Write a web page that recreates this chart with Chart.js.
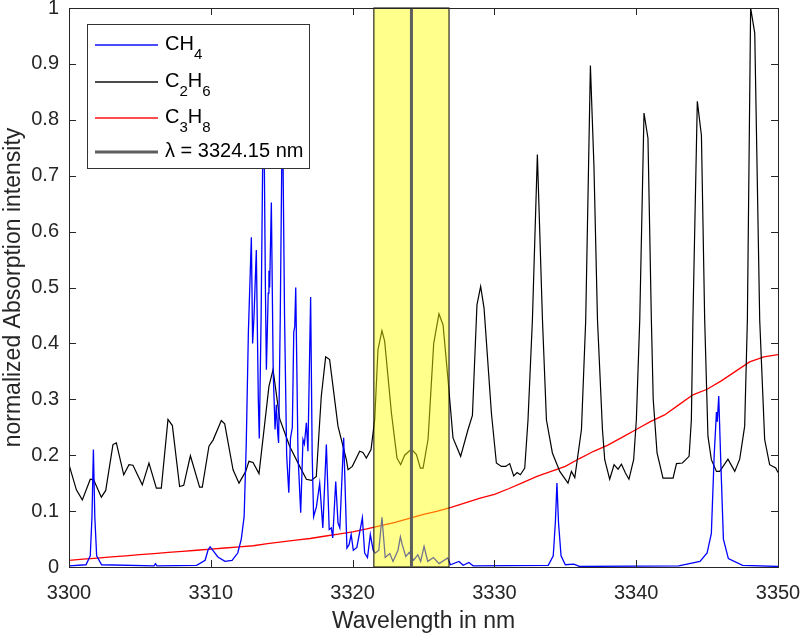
<!DOCTYPE html>
<html>
<head>
<meta charset="utf-8">
<script src="https://cdn.jsdelivr.net/npm/chart.js@4.4.1/dist/chart.umd.min.js"></script>
<style>
  html, body { margin: 0; padding: 0; background: #fff; }
</style>
</head>
<body>
<canvas id="spectrum" width="803" height="636"></canvas>
<script>
// CH4 spectrum (wavelength nm / normalized intensity)
const ch4Wl = [3300.0, 3301.2, 3301.5, 3301.62, 3301.72, 3301.82, 3301.95, 3302.3, 3306.0, 3306.1, 3306.2,
  3309.0, 3309.6, 3309.8, 3309.95, 3310.2, 3310.5, 3311.0, 3311.5, 3311.9, 3312.15, 3312.35, 3312.5, 3312.65,
  3312.86, 3312.95, 3313.05, 3313.21, 3313.35, 3313.42, 3313.55, 3313.72, 3313.85, 3313.92, 3314.05, 3314.1,
  3314.15, 3314.27, 3314.4, 3314.53, 3314.62, 3314.72, 3314.78, 3314.9, 3315.05, 3315.2, 3315.35, 3315.5,
  3315.62, 3315.75, 3315.85, 3315.92, 3315.99, 3316.15, 3316.34, 3316.5, 3316.6, 3316.74, 3316.85, 3317.04,
  3317.15, 3317.25, 3317.45, 3317.68, 3317.9, 3318.15, 3318.35, 3318.5, 3318.6, 3318.81, 3318.97, 3319.1,
  3319.37, 3319.6, 3319.75, 3319.9, 3320.05, 3320.3, 3320.69, 3320.85, 3321.05, 3321.25, 3321.45, 3321.6,
  3321.85, 3322.07, 3322.3, 3322.62, 3322.85, 3323.2, 3323.37, 3323.5, 3323.75, 3324.0, 3324.3, 3324.6,
  3324.8, 3325.04, 3325.3, 3325.7, 3326.1, 3326.7, 3326.9, 3327.5, 3327.8, 3328.2, 3328.5, 3333.8, 3334.15,
  3334.3, 3334.41, 3334.52, 3334.7, 3335.0, 3335.6, 3336.0, 3343.0, 3344.5, 3345.0, 3345.3, 3345.5, 3345.66,
  3345.72, 3345.82, 3345.95, 3346.15, 3346.5, 3347.5, 3350.0];
const ch4Abs = [0.002, 0.004, 0.02, 0.09, 0.21, 0.09, 0.02, 0.004, 0.002, 0.006, 0.002,
  0.003, 0.012, 0.03, 0.036, 0.028, 0.018, 0.01, 0.012, 0.025, 0.05, 0.09, 0.22, 0.42,
  0.59, 0.40, 0.45, 0.567, 0.30, 0.23, 0.45, 0.88, 0.50, 0.353, 0.49, 0.53,
  0.50, 0.652, 0.35, 0.246, 0.29, 0.24, 0.222, 0.45, 0.84, 0.45, 0.20, 0.133,
  0.23, 0.25, 0.42, 0.43, 0.50, 0.20, 0.097, 0.228, 0.22, 0.258, 0.207, 0.483,
  0.20, 0.09, 0.108, 0.15, 0.07, 0.219, 0.067, 0.07, 0.052, 0.153, 0.079, 0.07,
  0.231, 0.034, 0.04, 0.058, 0.03, 0.035, 0.088, 0.025, 0.017, 0.058, 0.03, 0.025,
  0.03, 0.089, 0.017, 0.024, 0.01, 0.03, 0.054, 0.04, 0.019, 0.026, 0.012, 0.022,
  0.01, 0.037, 0.01, 0.017, 0.006, 0.016, 0.004, 0.01, 0.003, 0.008, 0.002, 0.003, 0.02,
  0.08, 0.15, 0.08, 0.02, 0.004, 0.005, 0.001, 0.002, 0.01, 0.025, 0.06, 0.2, 0.277,
  0.26, 0.306, 0.2, 0.05, 0.015, 0.003, 0.001];

// C2H6 spectrum
const c2h6Wl = [3300.0, 3300.52, 3300.94, 3301.5, 3301.74, 3302.28, 3302.59, 3303.1, 3303.34, 3303.86, 3304.23,
  3304.51, 3305.17, 3305.64, 3306.16, 3306.51, 3306.98, 3307.29, 3307.8, 3308.09, 3308.56, 3309.21, 3309.4,
  3309.87, 3310.16, 3310.74, 3310.98, 3311.57, 3311.99, 3312.46, 3312.69, 3312.98, 3313.4, 3314.1, 3314.39,
  3314.86, 3315.56, 3316.27, 3316.74, 3317.09, 3317.44, 3317.79, 3318.1, 3318.38, 3318.97, 3319.56, 3319.68,
  3319.98, 3320.5, 3320.73, 3320.97, 3321.3, 3321.56, 3321.79, 3322.07, 3322.26, 3322.74, 3323.13, 3323.39,
  3323.67, 3324.15, 3324.5, 3324.78, 3324.97, 3325.32, 3325.72, 3326.09, 3326.38, 3326.73, 3327.08, 3327.62,
  3328.14, 3328.45, 3328.77, 3329.03, 3329.27, 3329.79, 3330.14, 3330.49, 3330.8, 3331.08, 3331.36, 3331.6,
  3331.83, 3332.14, 3332.37, 3332.68, 3333.03, 3333.2, 3333.39, 3333.67, 3334.09, 3334.61, 3335.19, 3335.43,
  3335.67, 3336.14, 3336.44, 3336.77, 3337.02, 3337.27, 3337.62, 3337.78, 3338.13, 3338.44, 3338.72, 3338.96,
  3339.24, 3339.49, 3339.82, 3340.01, 3340.25, 3340.55, 3340.83, 3341.07, 3341.2, 3341.47, 3341.89, 3342.6,
  3342.84, 3343.26, 3343.73, 3343.89, 3344.0, 3344.31, 3344.6, 3344.83, 3345.06, 3345.3, 3345.66, 3345.89,
  3346.47, 3346.95, 3347.3, 3347.65, 3347.84, 3348.07, 3348.36, 3348.71, 3349.06, 3349.41, 3349.84, 3350.0];
const c2h6Abs = [0.183, 0.138, 0.12, 0.157, 0.156, 0.125, 0.137, 0.219, 0.222, 0.165, 0.183,
  0.182, 0.147, 0.186, 0.141, 0.141, 0.264, 0.253, 0.144, 0.146, 0.199, 0.143, 0.143,
  0.216, 0.227, 0.262, 0.256, 0.174, 0.15, 0.171, 0.189, 0.187, 0.167, 0.323, 0.353,
  0.265, 0.216, 0.18, 0.157, 0.155, 0.162, 0.305, 0.376, 0.371, 0.252, 0.192, 0.174,
  0.18, 0.207, 0.205, 0.195, 0.21, 0.264, 0.389, 0.423, 0.404, 0.275, 0.195, 0.183,
  0.2, 0.211, 0.201, 0.177, 0.177, 0.228, 0.4, 0.453, 0.433, 0.335, 0.231, 0.198,
  0.246, 0.271, 0.469, 0.502, 0.463, 0.275, 0.186, 0.18, 0.18, 0.185, 0.163, 0.169,
  0.165, 0.177, 0.263, 0.442, 0.738, 0.598, 0.442, 0.263, 0.204, 0.171, 0.15, 0.171,
  0.16, 0.246, 0.442, 0.897, 0.717, 0.442, 0.246, 0.192, 0.157, 0.183, 0.175, 0.184,
  0.168, 0.157, 0.192, 0.263, 0.442, 0.812, 0.767, 0.442, 0.3, 0.204, 0.159, 0.159,
  0.185, 0.186, 0.198, 0.263, 0.442, 0.833, 0.772, 0.442, 0.234, 0.192, 0.171, 0.171,
  0.193, 0.171, 0.193, 0.252, 0.442, 1.0, 0.955, 0.442, 0.228, 0.183, 0.177, 0.169];

// C3H8 spectrum
const c3h8Wl = [3300, 3301, 3302, 3303, 3304, 3305, 3306, 3307, 3308, 3309, 3310, 3311, 3312, 3313, 3314,
  3315, 3316, 3317, 3318, 3319, 3320, 3321, 3322, 3323, 3324, 3325, 3326, 3327, 3328, 3329, 3330, 3331,
  3332, 3333, 3334, 3335, 3336, 3337, 3338, 3339, 3340, 3341, 3342, 3343, 3344, 3345, 3346, 3347, 3348,
  3349, 3350];
const c3h8Abs = [0.012, 0.014, 0.016, 0.018, 0.020, 0.022, 0.024, 0.026, 0.028, 0.030, 0.032, 0.034, 0.036,
  0.038, 0.042, 0.045, 0.048, 0.051, 0.055, 0.059, 0.063, 0.068, 0.074, 0.080, 0.087, 0.094, 0.100, 0.107,
  0.115, 0.123, 0.130, 0.140, 0.151, 0.162, 0.171, 0.180, 0.194, 0.207, 0.218, 0.232, 0.246, 0.260, 0.272,
  0.290, 0.308, 0.318, 0.333, 0.350, 0.367, 0.376, 0.380];

const selectedWl = 3324.15;
const windowWl = [3321.5, 3326.8];
const xTicks = [3300, 3310, 3320, 3330, 3340, 3350];
const yTicks = [0, 0.1, 0.2, 0.3, 0.4, 0.5, 0.6, 0.7, 0.8, 0.9, 1];
const seriesNames = ['CH_4', 'C_2H_6', 'C_3H_8', 'λ = ' + selectedWl.toFixed(2) + ' nm'];
const seriesColors = ['#0000ff', '#000000', '#ff0000', '#5e5e5e'];
const seriesWidths = [1.3, 1.2, 1.3, 3];

const FONT = '"Liberation Sans", Arial, Helvetica, sans-serif';
const AX = '#262626';
const pts = (xs, ys) => xs.map((x, i) => ({x: x, y: ys[i]}));

// yellow window under the marker line, inward ticks, box frame, legend
const decor = {
  id: 'decor',
  beforeDatasetDraw(chart, args) {
    if (args.index !== 3) return;
    const {ctx, scales: {x, y}} = chart;
    const x0 = x.getPixelForValue(windowWl[0]), x1 = x.getPixelForValue(windowWl[1]);
    const y0 = y.getPixelForValue(1), y1 = y.getPixelForValue(0);
    ctx.save();
    ctx.fillStyle = 'rgba(255,255,0,0.45)';
    ctx.fillRect(x0, y0, x1 - x0, y1 - y0);
    ctx.strokeStyle = '#000';
    ctx.lineWidth = 1;
    ctx.strokeRect(x0, y0, x1 - x0, y1 - y0);
    ctx.restore();
  },
  afterDraw(chart) {
    const {ctx, chartArea: a, scales: {x, y}} = chart;
    ctx.save();
    ctx.strokeStyle = AX;
    ctx.lineWidth = 1;
    ctx.beginPath();
    xTicks.forEach(v => {
      const p = Math.round(x.getPixelForValue(v)) + 0.5;
      ctx.moveTo(p, a.bottom); ctx.lineTo(p, a.bottom - 7);
      ctx.moveTo(p, a.top); ctx.lineTo(p, a.top + 7);
    });
    yTicks.forEach(v => {
      const p = Math.round(y.getPixelForValue(v)) + 0.5;
      ctx.moveTo(a.left, p); ctx.lineTo(a.left + 7, p);
      ctx.moveTo(a.right, p); ctx.lineTo(a.right - 7, p);
    });
    ctx.stroke();
    ctx.strokeRect(Math.round(a.left) + 0.5, Math.round(a.top) + 0.5, Math.round(a.right - a.left), Math.round(a.bottom - a.top));

    // legend
    const lx = 87, ly = 24, lw = 222, lh = 144;
    ctx.fillStyle = '#fff';
    ctx.fillRect(lx, ly, lw, lh);
    ctx.strokeStyle = '#333';
    ctx.strokeRect(lx + 0.5, ly + 0.5, lw, lh);
    const rowY = [45, 82, 118, 152];
    seriesNames.forEach((name, i) => {
      const yy = rowY[i];
      const w = i === 3 ? 3 : 1.4;
      ctx.fillStyle = seriesColors[i];
      ctx.fillRect(95, yy - w / 2, 63, w);
      ctx.fillStyle = '#000';
      ctx.textBaseline = 'alphabetic';
      let tx = 165;
      name.split(/(_\w)/).filter(s => s).forEach(part => {
        if (part[0] === '_') {
          ctx.font = '15px ' + FONT;
          ctx.fillText(part.slice(1), tx, yy + 14);
          tx += ctx.measureText(part.slice(1)).width;
        } else {
          ctx.font = '20px ' + FONT;
          ctx.fillText(part, tx, yy + 5);
          tx += ctx.measureText(part).width;
        }
      });
    });
    ctx.restore();
  }
};

const series = [pts(ch4Wl, ch4Abs), pts(c2h6Wl, c2h6Abs), pts(c3h8Wl, c3h8Abs),
  [{x: selectedWl, y: 0}, {x: selectedWl, y: 1}]];

new Chart(document.getElementById('spectrum'), {
  type: 'line',
  data: {
    datasets: series.map((d, i) => ({
      label: seriesNames[i], data: d,
      borderColor: seriesColors[i], borderWidth: seriesWidths[i],
      order: i === 3 ? -1 : i
    }))
  },
  options: {
    responsive: false,
    animation: false,
    layout: {padding: {top: 8, right: 25, left: 0, bottom: 0}},
    elements: {point: {radius: 0}, line: {tension: 0}},
    plugins: {legend: {display: false}, tooltip: {enabled: false}},
    scales: {
      x: {
        type: 'linear', min: 3300, max: 3350,
        grid: {display: false, drawTicks: false}, border: {display: false},
        afterBuildTicks: s => { s.ticks = xTicks.map(v => ({value: v})); },
        afterFit: s => { s.height = 69; s.paddingLeft = 0; s.paddingRight = 0; },
        ticks: {font: {family: FONT, size: 20}, color: AX, padding: 14, maxRotation: 0, callback: v => String(v)},
        title: {display: true, text: 'Wavelength in nm', font: {family: FONT, size: 23}, color: AX, padding: {top: 0, bottom: 1}}
      },
      y: {
        type: 'linear', min: 0, max: 1,
        grid: {display: false, drawTicks: false}, border: {display: false},
        afterBuildTicks: s => { s.ticks = yTicks.map(v => ({value: v})); },
        afterFit: s => { s.width = 69; s.paddingTop = 0; s.paddingBottom = 0; },
        ticks: {font: {family: FONT, size: 20}, color: AX, padding: 10, callback: v => String(+v.toFixed(1))},
        title: {display: true, text: 'normalized Absorption intensity', font: {family: FONT, size: 23}, color: AX, padding: {top: 0, bottom: 0}}
      }
    }
  },
  plugins: [decor]
});
</script>
</body>
</html>
